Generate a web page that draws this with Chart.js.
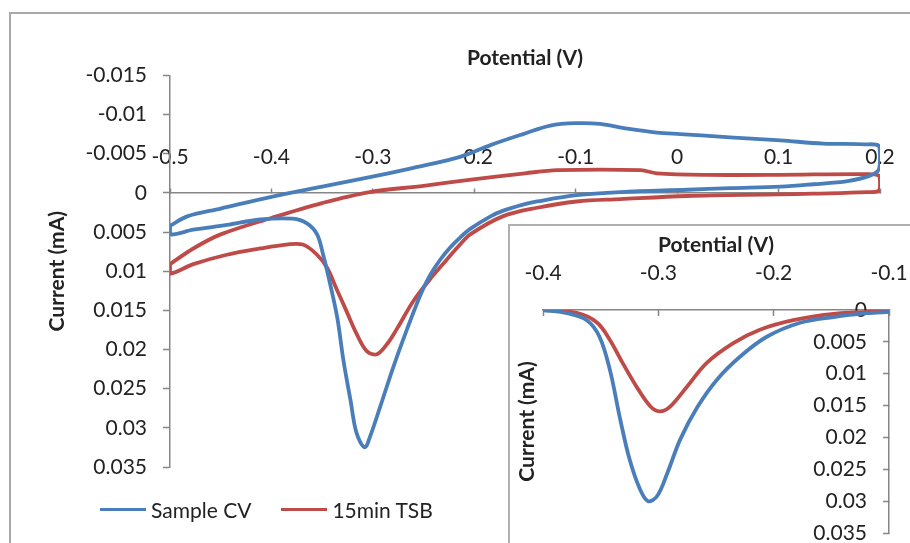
<!DOCTYPE html>
<html>
<head>
<meta charset="utf-8">
<script src="https://cdn.jsdelivr.net/npm/chart.js@4/dist/chart.umd.min.js"></script>
<style>
  html, body { margin: 0; padding: 0; background: #fff; }
  body { width: 910px; height: 543px; overflow: hidden; position: relative; font-family: Lato, sans-serif; }
  #frame { position: absolute; left: 9px; top: 12px; width: 1000px; height: 700px;
           border-left: 2px solid #a9a9a9; border-top: 2px solid #a9a9a9; }
  #main { position: absolute; left: 0; top: 0; }
  #insetBox { position: absolute; left: 508px; top: 224px; width: 500px; height: 400px; background: #fff;
              border-left: 2px solid #b0b0b0; border-top: 2px solid #b0b0b0; }
  #inset { position: absolute; left: 510px; top: 226px; }
  #legend { position: absolute; left: 100px; top: 496px; height: 26px; display: flex; align-items: center;
            font: 21px Lato, sans-serif; color: #222; white-space: nowrap; }
  #legend .item { display: flex; align-items: center; margin-right: 30px; }
  #legend .swatch { width: 46px; height: 3px; margin-right: 5px; }
</style>
</head>
<body>
<div id="frame"></div>
<canvas id="main" width="910" height="543"></canvas>
<div id="legend"></div>
<div id="insetBox"></div>
<canvas id="inset" width="400" height="317"></canvas>
<script>
// Cyclic voltammograms: potential (V) vs current (mA), each loop traced as one closed path
const seriesNames = ['Sample CV', '15min TSB'];
const seriesColors = ['#4a7ebb', '#be4b48'];

const sampleCvPotential = [
  -0.5, -0.483, -0.45, -0.4, -0.35, -0.303, -0.26, -0.214, -0.184, -0.152,
  -0.125, -0.099, -0.076, -0.049, -0.02, 0.003, 0.052, 0.102, 0.144, 0.185,
  0.199, 0.2, 0.199, 0.19, 0.168, 0.134, 0.102, 0.052, 0.01, -0.056,
  -0.099, -0.138, -0.152, -0.172, -0.184, -0.204, -0.214, -0.224, -0.234, -0.244,
  -0.253, -0.266, -0.28, -0.293, -0.303, -0.308, -0.316, -0.322, -0.329, -0.335,
  -0.342, -0.349, -0.355, -0.365, -0.379, -0.411, -0.444, -0.477, -0.5, -0.5
];
const sampleCvCurrent = [
  0.0042, 0.003, 0.002, 0.0005, -0.0008, -0.002, -0.0032, -0.0046, -0.0061, -0.0075,
  -0.0086, -0.0089, -0.0088, -0.0082, -0.0077, -0.0075, -0.0071, -0.0067, -0.0063, -0.0062,
  -0.006, -0.0045, -0.003, -0.0022, -0.0015, -0.0011, -0.0008, -0.0006, -0.0004, -0.0001,
  0.0003, 0.0011, 0.0015, 0.0023, 0.003, 0.0046, 0.0057, 0.007, 0.0086, 0.0106,
  0.013, 0.0173, 0.0223, 0.0274, 0.0312, 0.0325, 0.0307, 0.0265, 0.0214, 0.016,
  0.0117, 0.0079, 0.0053, 0.0039, 0.0033, 0.0034, 0.0041, 0.0047, 0.0053, 0.0042
];
const tsbPotential = [
  -0.5, -0.477, -0.45, -0.4, -0.35, -0.303, -0.25, -0.203, -0.15, -0.118,
  -0.036, -0.02, 0.03, 0.1, 0.185, 0.199, 0.2, 0.199, 0.187, 0.134,
  0.1, 0.01, -0.056, -0.099, -0.138, -0.172, -0.204, -0.214, -0.227, -0.241,
  -0.26, -0.276, -0.286, -0.296, -0.306, -0.316, -0.326, -0.336, -0.345, -0.355,
  -0.369, -0.385, -0.411, -0.444, -0.477, -0.5, -0.5
];
const tsbCurrent = [
  0.0091, 0.0071, 0.0053, 0.0032, 0.0013, -0.0001, -0.0009, -0.0017, -0.0025, -0.0029,
  -0.0029, -0.0025, -0.0023, -0.0023, -0.0024, -0.0022, -0.0012, -0.0003, -0.0001, 0.0001,
  0.0002, 0.0004, 0.0008, 0.0011, 0.0019, 0.003, 0.0053, 0.0066, 0.0085, 0.0106,
  0.0138, 0.0173, 0.0193, 0.0206, 0.0202, 0.018, 0.0151, 0.0122, 0.0096, 0.0079,
  0.0066, 0.0066, 0.0071, 0.0079, 0.0091, 0.0103, 0.0091
];

// Baseline-corrected reduction peaks shown in the inset
const insetSamplePotential = [
  -0.4, -0.379, -0.362, -0.351, -0.342, -0.333, -0.325, -0.316, -0.309, -0.301,
  -0.292, -0.281, -0.266, -0.249, -0.229, -0.206, -0.177, -0.148, -0.119, -0.1
];
const insetSampleCurrent = [
  0, 0.0005, 0.0016, 0.0042, 0.0094, 0.0172, 0.0234, 0.0281, 0.03, 0.0292,
  0.0255, 0.0203, 0.0152, 0.0109, 0.0073, 0.0042, 0.002, 0.0011, 0.0005, 0.0003
];
const insetTsbPotential = [
  -0.4, -0.37, -0.353, -0.342, -0.331, -0.318, -0.307, -0.299, -0.29, -0.275,
  -0.258, -0.235, -0.212, -0.183, -0.148, -0.1
];
const insetTsbCurrent = [
  0, 0.0005, 0.002, 0.0047, 0.0083, 0.0123, 0.0151, 0.0159, 0.0152, 0.012,
  0.0083, 0.0052, 0.0031, 0.0016, 0.0006, 0.0002
];

// Axis ticks and their labels
const mainXTicks = [-0.5, -0.4, -0.3, -0.2, -0.1, 0, 0.1, 0.2];
const mainXLabels = ['-0.5', '-0.4', '-0.3', '-0.2', '-0.1', '0', '0.1', '0.2'];
const mainYTicks = [-0.015, -0.01, -0.005, 0, 0.005, 0.01, 0.015, 0.02, 0.025, 0.03, 0.035];
const mainYLabels = ['-0.015', '-0.01', '-0.005', '0', '0.005', '0.01', '0.015', '0.02', '0.025', '0.03', '0.035'];
const insetXTicks = [-0.4, -0.3, -0.2, -0.1];
const insetXLabels = ['-0.4', '-0.3', '-0.2', '-0.1'];
const insetYTicks = [0, 0.005, 0.01, 0.015, 0.02, 0.025, 0.03, 0.035];
const insetYLabels = ['0', '0.005', '0.01', '0.015', '0.02', '0.025', '0.03', '0.035'];

const xTitle = 'Potential (V)';
const yTitle = 'Current (mA)';

const FONT = 'Lato, sans-serif';
const TEXT = '#222';
const AXIS = '#868686';

const pts = (xs, ys) => xs.map((x, i) => ({ x, y: ys[i] }));
const lineDs = (label, data, color) => ({
  label, data, borderColor: color, backgroundColor: color,
  borderWidth: 3.8, pointRadius: 0, tension: 0.35, showLine: true,
  borderCapStyle: 'round', borderJoinStyle: 'round', fill: false
});
const fixedTicks = (values) => (scale) => { scale.ticks = values.map(v => ({ value: v })); };
const labelFrom = (values, labels) => (v) => {
  const i = values.findIndex(t => Math.abs(t - v) < 1e-9);
  return i >= 0 ? labels[i] : '';
};

Chart.defaults.font.family = FONT;
Chart.defaults.color = TEXT;

new Chart(document.getElementById('main'), {
  type: 'scatter',
  data: {
    datasets: [
      lineDs(seriesNames[0], pts(sampleCvPotential, sampleCvCurrent), seriesColors[0]),
      lineDs(seriesNames[1], pts(tsbPotential, tsbCurrent), seriesColors[1])
    ]
  },
  options: {
    responsive: false, animation: false, events: [],
    layout: { padding: { left: 0, right: 30, top: 0, bottom: 76 } },
    plugins: {
      legend: { display: false }, tooltip: { enabled: false },
      title: {
        display: true, text: xTitle, fullSize: false, color: TEXT,
        font: { size: 21, weight: 'bold', family: FONT },
        padding: { top: 46, bottom: 4.2 }
      }
    },
    scales: {
      x: {
        type: 'linear', min: -0.5, max: 0.2,
        position: { y: 0 },
        afterBuildTicks: fixedTicks(mainXTicks),
        ticks: { callback: labelFrom(mainXTicks, mainXLabels), font: { size: 21 }, color: TEXT,
                 padding: -43, maxRotation: 0, autoSkip: false },
        grid: { drawOnChartArea: false, drawTicks: true, tickLength: -5, color: AXIS, tickWidth: 1.5 },
        border: { display: true, color: AXIS, width: 1.5 }
      },
      y: {
        type: 'linear', reverse: true, min: -0.015, max: 0.035,
        afterBuildTicks: fixedTicks(mainYTicks),
        afterFit: (s) => { s.width = 170; },
        ticks: { callback: labelFrom(mainYTicks, mainYLabels), font: { size: 21 }, color: TEXT,
                 padding: 16, autoSkip: false },
        grid: { drawOnChartArea: false, drawTicks: true, tickLength: 7, color: AXIS, tickWidth: 1.5 },
        border: { display: true, color: AXIS, width: 1.5 },
        title: { display: true, text: yTitle, color: TEXT, font: { size: 21, weight: 'bold' },
                 padding: { top: 45, bottom: 0 } }
      }
    }
  }
});

new Chart(document.getElementById('inset'), {
  type: 'scatter',
  data: {
    datasets: [
      lineDs(seriesNames[0], pts(insetSamplePotential, insetSampleCurrent), seriesColors[0]),
      lineDs(seriesNames[1], pts(insetTsbPotential, insetTsbCurrent), seriesColors[1])
    ]
  },
  options: {
    responsive: false, animation: false, events: [],
    layout: { padding: { left: 0, right: 0, top: 0, bottom: 10 } },
    plugins: { legend: { display: false }, tooltip: { enabled: false }, title: { display: false } },
    scales: {
      x: {
        type: 'linear', min: -0.4, max: -0.1, position: 'top',
        afterBuildTicks: fixedTicks(insetXTicks),
        afterFit: (s) => { s.height = 84; s.paddingLeft = 0; s.paddingRight = 0; },
        ticks: { callback: labelFrom(insetXTicks, insetXLabels), font: { size: 21 }, color: TEXT,
                 padding: 30, maxRotation: 0, autoSkip: false },
        grid: { drawOnChartArea: false, drawTicks: true, tickLength: -6, color: AXIS, tickWidth: 1.5 },
        border: { display: true, color: AXIS, width: 1.5 },
        title: { display: true, text: xTitle, color: TEXT, font: { size: 21, weight: 'bold' },
                 padding: { top: 7, bottom: 0 } }
      },
      y: {
        type: 'linear', reverse: true, min: 0, max: 0.035, position: 'right',
        afterBuildTicks: fixedTicks(insetYTicks),
        afterFit: (s) => { s.width = 21; },
        ticks: { callback: labelFrom(insetYTicks, insetYLabels), font: { size: 21 }, color: TEXT,
                 mirror: true, padding: -22, autoSkip: false },
        grid: { drawOnChartArea: false, drawTicks: true, tickLength: -6, color: AXIS, tickWidth: 1.5 },
        border: { display: true, color: AXIS, width: 1.5 }
      },
      yTitleAxis: {
        type: 'linear', reverse: true, min: 0, max: 0.035, position: 'left',
        afterFit: (s) => { s.width = 33; },
        ticks: { display: false },
        grid: { display: false, drawTicks: false },
        border: { display: false },
        title: { display: true, text: yTitle, color: TEXT, font: { size: 21, weight: 'bold' },
                 padding: { top: 5, bottom: 0 } }
      }
    }
  }
});

// Legend entries taken from the series definitions
const legend = document.getElementById('legend');
seriesNames.forEach((name, i) => {
  const item = document.createElement('div');
  item.className = 'item';
  const sw = document.createElement('span');
  sw.className = 'swatch';
  sw.style.background = seriesColors[i];
  const tx = document.createElement('span');
  tx.textContent = name;
  item.appendChild(sw);
  item.appendChild(tx);
  legend.appendChild(item);
});
</script>
</body>
</html>
